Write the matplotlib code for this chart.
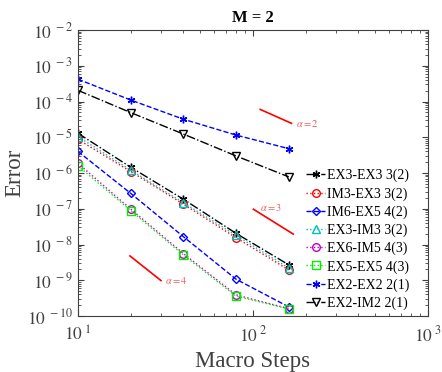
import numpy as np
import matplotlib
matplotlib.use('Agg')
import matplotlib.pyplot as plt
from matplotlib.ticker import FuncFormatter, LogLocator

plt.rcParams['font.family'] = ['Liberation Serif', 'DejaVu Serif']
plt.rcParams['mathtext.fontset'] = 'stix'

steps = [10, 20, 40, 80, 160]

# error per scheme
ex3_ex3 = [1.29e-5, 1.45e-6, 1.85e-7, 2.05e-8, 2.7e-9]
im3_ex3 = [8.7e-6, 1.1e-6, 1.35e-7, 1.55e-8, 1.95e-9]
im6_ex5 = [4.0e-6, 2.7e-7, 1.66e-8, 1.07e-9, 1.8e-10]
ex3_im3 = [1.04e-5, 1.2e-6, 1.48e-7, 1.8e-8, 2.2e-9]
ex6_im5 = [1.86e-6, 9.8e-8, 5.6e-9, 3.9e-10, 1.6e-10]
ex5_ex5 = [1.58e-6, 8.9e-8, 5.1e-9, 3.6e-10, 1.58e-10]
ex2_ex2 = [4.2e-4, 1.1e-4, 3.2e-5, 1.15e-5, 4.8e-6]
ex2_im2 = [2.05e-4, 4.9e-5, 1.23e-5, 3.0e-6, 7.8e-7]

labels = ['EX3-EX3 3(2)', 'IM3-EX3 3(2)', 'IM6-EX5 4(2)', 'EX3-IM3 3(2)',
          'EX6-IM5 4(3)', 'EX5-EX5 4(3)', 'EX2-EX2 2(1)', 'EX2-IM2 2(1)']

# reference slope segments and their labels
slope_names = [r'$\alpha = 2$', r'$\alpha = 3$', r'$\alpha = 4$']
slope_x = [[110, 166], [100.5, 170], [19.8, 29.8]]
slope_y = [[6.0e-5, 2.45e-5], [9.7e-8, 1.95e-8], [4.8e-9, 9.8e-10]]
slope_lx = [176, 110, 31.4]
slope_ly = [2.5e-5, 1.1e-7, 9.8e-10]

asterisk = (6, 2, 0)
styles = [
    (ex3_ex3, 'k', '-.', asterisk),
    (im3_ex3, 'r', ':', 'o'),
    (im6_ex5, 'b', '--', 'D'),
    (ex3_im3, 'c', ':', '^'),
    (ex6_im5, 'm', ':', 'o'),
    (ex5_ex5, '#00ee00', ':', 's'),
    (ex2_ex2, 'b', '--', asterisk),
    (ex2_im2, 'k', '-.', 'v'),
]

fig = plt.figure(figsize=(4.42, 3.72), dpi=100)
ax = fig.add_axes([78/442, 1-316/372, 350/442, 286/372])

for (vals, c, ls, mk), lab in zip(styles, labels):
    ms = 4.5 if mk == 'D' else 5.5
    ax.plot(steps, vals, color=c, linestyle=ls, marker=mk, markersize=ms,
            markerfacecolor='none', markeredgecolor=c, linewidth=1,
            markeredgewidth=1, label=lab)

for i in range(3):
    ax.plot(slope_x[i], slope_y[i], color='r', linewidth=1.2)
    ax.text(slope_lx[i], slope_ly[i], slope_names[i], color='#f05a5a',
            fontsize=7.5, ha='left', va='center')

ax.set_xscale('log')
ax.set_yscale('log')
ax.set_xlim(10, 1000)
ax.set_ylim(1e-10, 1e-2)

def fmt(v, pos):
    e = int(round(np.log10(v)))
    return r'$10^{\ %d}$' % e

ax.xaxis.set_major_formatter(FuncFormatter(fmt))
ax.yaxis.set_major_formatter(FuncFormatter(fmt))
ax.yaxis.set_major_locator(LogLocator(base=10, numticks=20))
ax.yaxis.set_minor_locator(LogLocator(base=10, subs=np.arange(2, 10), numticks=20))

ax.tick_params(which='both', direction='in', top=True, right=True,
               colors='#404040', labelsize=12.5)
ax.tick_params(which='major', length=4)
ax.tick_params(which='minor', length=2)
ax.tick_params(axis='x', which='major', pad=7)
for sp in ax.spines.values():
    sp.set_color('#404040')

ax.set_xlabel('Macro Steps', fontsize=16.5, color='#404040', labelpad=4)
ax.set_ylabel('Error', fontsize=16.5, color='#404040', labelpad=1)
ax.set_title('M = 2', fontsize=12, fontweight='bold', pad=6)

ax.legend(loc='upper left', bbox_to_anchor=(0.625, 0.548), frameon=False,
          fontsize=10, handlelength=1.3, handletextpad=0.2,
          labelspacing=0.34, borderpad=0.2)

fig.savefig('out.png', dpi=100)
